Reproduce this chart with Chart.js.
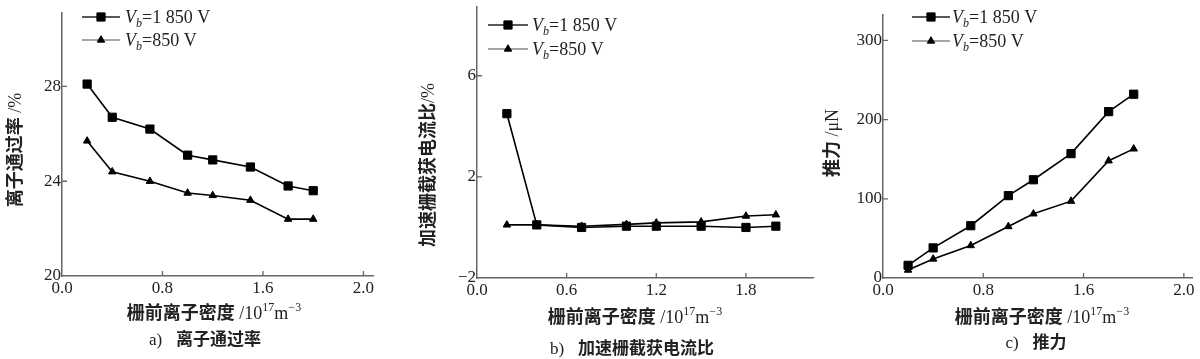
<!DOCTYPE html>
<html>
<head>
<meta charset="utf-8">
<script src="https://cdn.jsdelivr.net/npm/chart.js@4/dist/chart.umd.min.js"></script>
<style>
  body { margin: 0; background: #fff; width: 1200px; height: 359px; position: relative; overflow: hidden; }
  canvas { position: absolute; top: 0; }
  .cap { position: absolute; transform: translate(-50%, -50%); white-space: nowrap; color: #222;
         font: bold 17px "Noto Sans CJK SC", sans-serif; }
  .cap span { font: 17px "Liberation Serif", serif; margin-right: 14px; }
</style>
</head>
<body>
<canvas id="ch-a" width="400" height="359" style="left:0"></canvas>
<canvas id="ch-b" width="420" height="359" style="left:400px"></canvas>
<canvas id="ch-c" width="400" height="359" style="left:800px"></canvas>
<div class="cap" style="left:205px;top:337px"><span>a)</span>离子通过率</div>
<div class="cap" style="left:632px;top:346px"><span>b)</span>加速栅截获电流比</div>
<div class="cap" style="left:1036px;top:340px"><span>c)</span>推力</div>

<script>
// grid ion density, 10^17 m^-3
const density = [0.2, 0.4, 0.7, 1.0, 1.2, 1.5, 1.8, 2.0];

// a) ion transmission rate, %
const passRate1850 = [28.1, 26.7, 26.2, 25.1, 24.9, 24.6, 23.8, 23.6];
const passRate850  = [25.7, 24.4, 24.0, 23.5, 23.4, 23.2, 22.4, 22.4];
// b) accel grid impingement current ratio, %
const accel1850 = [4.5, 0.1, 0.0, 0.05, 0.05, 0.05, 0.0, 0.05];
const accel850  = [0.1, 0.1, 0.05, 0.12, 0.18, 0.22, 0.45, 0.5];
// c) thrust, uN
const thrust1850 = [16, 38, 66, 104, 124, 157, 210, 232];
const thrust850  = [10, 24, 41, 65, 81, 97, 148, 163];

const legendValues = ['=1 850 V', '=850 V'];

const xTicksAC = [0, 0.8, 1.6, 2.4];
const xTickTextAC = ['0.0', '0.8', '1.6', '2.0'];
const xTicksB = [0, 0.6, 1.2, 1.8];
const xTickTextB = ['0.0', '0.6', '1.2', '1.8'];
const yTicksA = [20, 24, 28];
const yTicksB = [-2, 2, 6];
const yTicksC = [0, 100, 200, 300];

const SERIF = '"Liberation Serif", serif';
const CJK = 'bold 18px "Noto Sans CJK SC", sans-serif';
const AXIS = '#666';

// draw a row of text pieces (mixed fonts, sup/sub) centred on cx,cy
function drawRuns(ctx, runs, cx, cy, rot) {
  ctx.save();
  ctx.translate(cx, cy);
  if (rot) ctx.rotate(rot);
  ctx.textBaseline = 'alphabetic';
  ctx.textAlign = 'left';
  let w = 0;
  runs.forEach(r => { ctx.font = r.f; w += ctx.measureText(r.t).width; });
  let x = -w / 2;
  runs.forEach(r => {
    ctx.font = r.f;
    ctx.fillStyle = '#222';
    ctx.fillText(r.t, x, 6 + (r.dy || 0));
    x += ctx.measureText(r.t).width;
  });
  ctx.restore();
}

const decor = {
  id: 'decor',
  afterDraw(chart, args, o) {
    const ctx = chart.ctx;
    const {x, y} = chart.scales;
    // inward tick marks
    ctx.save();
    ctx.strokeStyle = AXIS;
    ctx.lineWidth = 1.3;
    ctx.beginPath();
    x.ticks.forEach(t => {
      if (t.value === x.min) return;
      const px = x.getPixelForValue(t.value);
      ctx.moveTo(px, y.bottom); ctx.lineTo(px, y.bottom - 5);
    });
    y.ticks.forEach(t => {
      if (t.value === y.min) return;
      const py = y.getPixelForValue(t.value);
      ctx.moveTo(x.left, py); ctx.lineTo(x.left + 5, py);
    });
    ctx.stroke();
    ctx.restore();

    drawRuns(ctx, o.yTitle.runs, o.yTitle.x, o.yTitle.y, -Math.PI / 2);
    drawRuns(ctx, [
      {t: '栅前离子密度', f: CJK},
      {t: ' /10', f: '18px ' + SERIF},
      {t: '17', f: '12px ' + SERIF, dy: -8},
      {t: 'm', f: '18px ' + SERIF},
      {t: '−3', f: '12px ' + SERIF, dy: -8}
    ], o.xTitle.x, o.xTitle.y);

    // legend
    const lg = o.legend;
    chart.data.datasets.forEach((ds, i) => {
      const ly = lg.rows[i];
      ctx.save();
      ctx.strokeStyle = i === 0 ? '#222' : '#888';
      ctx.lineWidth = 1.5;
      ctx.beginPath(); ctx.moveTo(lg.x1, ly); ctx.lineTo(lg.x2, ly); ctx.stroke();
      ctx.fillStyle = '#000'; ctx.strokeStyle = '#000'; ctx.lineWidth = 1;
      Chart.helpers.drawPoint(ctx, {pointStyle: ds.pointStyle, radius: ds.pointRadius, rotation: 0, borderWidth: 1},
        (lg.x1 + lg.x2) / 2, ly);
      ctx.restore();
      const runs = [
        {t: 'V', f: 'italic 18px ' + SERIF},
        {t: 'b', f: 'italic 12px ' + SERIF, dy: 4},
        {t: legendValues[i], f: '18px ' + SERIF}
      ];
      ctx.save();
      let w = 0;
      runs.forEach(r => { ctx.font = r.f; w += ctx.measureText(r.t).width; });
      ctx.restore();
      drawRuns(ctx, runs, lg.tx + w / 2, ly);
    });
  }
};

function series(xs, ys, style, radius, order) {
  return {
    data: xs.map((v, i) => ({x: v, y: ys[i]})),
    borderColor: '#000', borderWidth: 1.6,
    pointStyle: style, pointRadius: radius, pointBackgroundColor: '#000', pointBorderColor: '#000',
    pointBorderWidth: 1, tension: 0, order: order
  };
}

function makeChart(id, c) {
  const W = c.w, H = 359;
  new Chart(document.getElementById(id).getContext('2d'), {
    type: 'line',
    data: { datasets: [
      series(density, c.s1, 'rect', 5.8, 1),
      series(density, c.s2, 'triangle', 4.3, 0)
    ] },
    options: {
      responsive: false, animation: false,
      layout: { padding: { left: 0, right: W - c.area.r, top: c.area.t, bottom: 0 } },
      plugins: { legend: { display: false }, tooltip: { enabled: false },
        decor: { yTitle: c.yTitle, xTitle: c.xTitle, legend: c.legend } },
      scales: {
        x: {
          type: 'linear', min: 0, max: c.xMax,
          afterBuildTicks: s => { s.ticks = c.xTicks.map(v => ({value: v})); },
          afterFit: s => { s.height = H - c.area.b; s.paddingLeft = 0; s.paddingRight = 0; },
          grid: { display: false, drawTicks: false },
          border: { color: AXIS, width: 1.5 },
          ticks: { autoSkip: false, maxRotation: 0, padding: 2, color: '#222',
            font: { family: SERIF, size: 17 }, callback: (v, i) => c.xText[i] }
        },
        y: {
          min: c.yMin, max: c.yMax,
          afterBuildTicks: s => { s.ticks = c.yTicks.map(v => ({value: v})); },
          afterFit: s => { s.width = c.area.l; s.paddingTop = 0; s.paddingBottom = 0; },
          grid: { display: false, drawTicks: false },
          border: { color: AXIS, width: 1.5 },
          ticks: { padding: 1, color: '#222', font: { family: SERIF, size: 17 },
            callback: v => v < 0 ? '−' + (-v) : String(v) }
        }
      }
    },
    plugins: [decor]
  });
}

makeChart('ch-a', {
  w: 400, area: {l: 62, r: 373, t: 13, b: 276},
  s1: passRate1850, s2: passRate850,
  xMax: 2.476, xTicks: xTicksAC, xText: xTickTextAC,
  yMin: 20, yMax: 31.1, yTicks: yTicksA,
  yTitle: {x: 15, y: 150, runs: [{t: '离子通过率', f: CJK}, {t: ' /%', f: '18px ' + SERIF}]},
  xTitle: {x: 214, y: 313},
  legend: {x1: 82, x2: 120, tx: 125, rows: [17, 40]}
});

makeChart('ch-b', {
  w: 420, area: {l: 77, r: 415, t: 7, b: 278},
  s1: accel1850, s2: accel850,
  xMax: 2.25, xTicks: xTicksB, xText: xTickTextB,
  yMin: -2, yMax: 8.72, yTicks: yTicksB,
  yTitle: {x: 28, y: 165, runs: [{t: '加速栅截获电流比', f: CJK}, {t: '/%', f: '18px ' + SERIF}]},
  xTitle: {x: 235, y: 317},
  legend: {x1: 88, x2: 128, tx: 132, rows: [25, 49]}
});

makeChart('ch-c', {
  w: 400, area: {l: 83, r: 392, t: 15, b: 278},
  s1: thrust1850, s2: thrust850,
  xMax: 2.465, xTicks: xTicksAC, xText: xTickTextAC,
  yMin: 0, yMax: 332, yTicks: yTicksC,
  yTitle: {x: 32, y: 143, runs: [{t: '推力', f: CJK}, {t: ' /μN', f: '18px ' + SERIF}]},
  xTitle: {x: 242, y: 317},
  legend: {x1: 112, x2: 150, tx: 152, rows: [17, 41]}
});
</script>
</body>
</html>
